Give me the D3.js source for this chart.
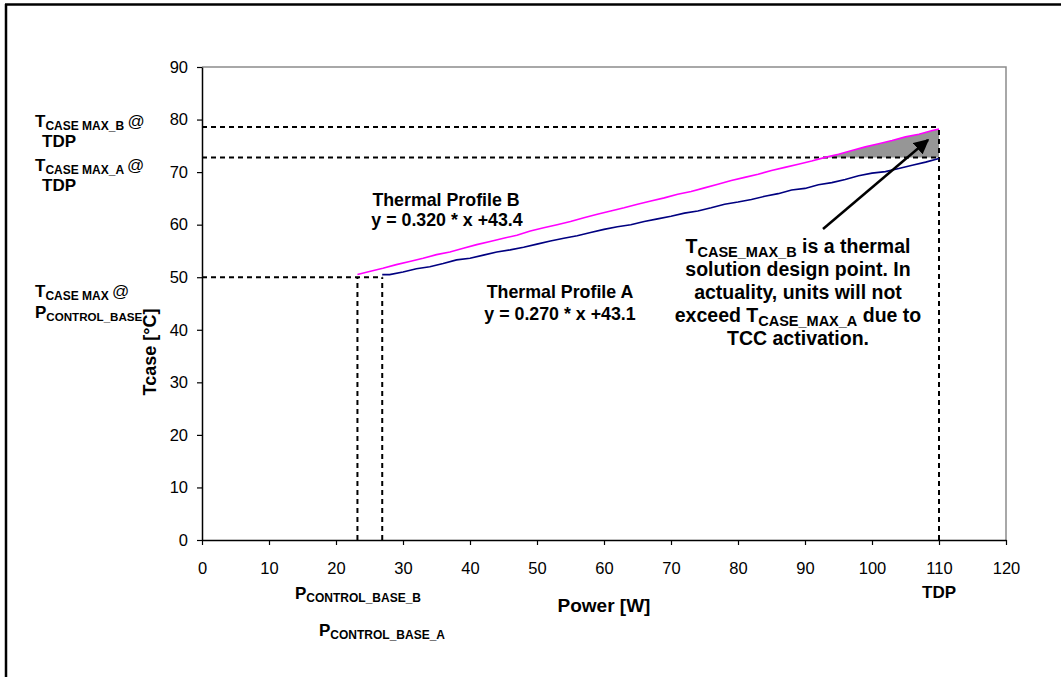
<!DOCTYPE html>
<html><head><meta charset="utf-8">
<script src="https://cdn.jsdelivr.net/npm/d3@7"></script>
<style>
body{margin:0;background:#fff;}
svg{display:block;font-family:"Liberation Sans",Arial,sans-serif;}
</style></head>
<body><svg id="c" width="1061" height="677"></svg>
<script>
// ---- data ----
const xTicks = [0,10,20,30,40,50,60,70,80,90,100,110,120];
const yTicks = [0,10,20,30,40,50,60,70,80,90];
const powerB = [23.2,25,27,29,31,33,35,37,39,41,43,45,47,49,51,53,55,57,59,61,63,65,67,69,71,73,75,77,79,81,83,85,87,89,91,93,95,97,99,101,103,105,107,109,110];
const tcaseB = [50.5,51.1,51.7,52.4,53.0,53.6,54.3,54.8,55.5,56.2,56.8,57.4,58.0,58.8,59.4,60.0,60.6,61.3,62.0,62.6,63.2,63.9,64.5,65.1,65.8,66.3,67.0,67.7,68.4,69.0,69.6,70.3,70.9,71.5,72.1,72.8,73.4,74.1,74.8,75.4,76.0,76.7,77.2,77.9,78.2];
const powerA = [26.9,28,30,32,34,36,38,40,42,44,46,48,50,52,54,56,58,60,62,64,66,68,70,72,74,76,78,80,82,84,86,88,90,92,94,96,98,100,102,104,106,108,110];
const tcaseA = [50.5,50.5,51.0,51.6,52.0,52.6,53.3,53.6,54.2,54.8,55.2,55.7,56.3,56.9,57.4,57.9,58.5,59.1,59.6,60.0,60.6,61.1,61.6,62.2,62.6,63.2,63.9,64.3,64.8,65.4,65.9,66.6,66.9,67.6,68.0,68.6,69.3,69.8,70.1,70.7,71.3,71.9,72.6];
const pControlB = 23.2, pControlA = 26.9, tdp = 110;
const tCaseMax = 50, tCaseMaxA = 72.8, tCaseMaxB = 78.6;

// ---- setup ----
const svg = d3.select("#c");
const x = d3.scaleLinear().domain([0,120]).range([202,1006]);
const y = d3.scaleLinear().domain([0,90]).range([540,67]);

// outer frame (top + left)
svg.append("line").attr("x1",5).attr("x2",1061).attr("y1",4.5).attr("y2",4.5).attr("stroke","#000").attr("stroke-width",2.5);
svg.append("line").attr("x1",6).attr("x2",6).attr("y1",4).attr("y2",677).attr("stroke","#000").attr("stroke-width",2.5);

// plot border (gray top/right)
svg.append("path").attr("d",`M${x(0)},${y(90)}H${x(120)}V${y(0)}`).attr("fill","none").attr("stroke","#8c8c8c").attr("stroke-width",1.5);

// gray fill between profile B and TCASE_MAX_A
const pts = [];
for(let i=0;i<powerB.length;i++){
  if(tcaseB[i] >= tCaseMaxA){
    if(pts.length===0 && i>0){
      const t=(tCaseMaxA-tcaseB[i-1])/(tcaseB[i]-tcaseB[i-1]);
      pts.push([powerB[i-1]+t*(powerB[i]-powerB[i-1]), tCaseMaxA]);
    }
    pts.push([powerB[i],tcaseB[i]]);
  }
}
svg.append("path").datum(pts)
  .attr("d", d3.area().x(d=>x(d[0])).y0(y(tCaseMaxA)).y1(d=>y(d[1])))
  .attr("fill","#969696");

// dashed guides
const dash = (x1,y1,x2,y2)=>svg.append("line").attr("x1",x(x1)).attr("y1",y(y1)).attr("x2",x(x2)).attr("y2",y(y2))
  .attr("stroke","#000").attr("stroke-width",2).attr("stroke-dasharray","5,4");
dash(0,tCaseMaxB,tdp,tCaseMaxB);
dash(0,tCaseMaxA,tdp,tCaseMaxA);
dash(0,tCaseMax,pControlA,tCaseMax);
dash(pControlB,0,pControlB,tCaseMax);
dash(pControlA,0,pControlA,tCaseMax);
dash(tdp,0,tdp,tCaseMaxB);

// lines
const line = d3.line().x(d=>x(d[0])).y(d=>y(d[1]));
svg.append("path").datum(powerB.map((p,i)=>[p,tcaseB[i]])).attr("d",line).attr("fill","none").attr("stroke","#ff00ff").attr("stroke-width",1.6);
svg.append("path").datum(powerA.map((p,i)=>[p,tcaseA[i]])).attr("d",line).attr("fill","none").attr("stroke","#000080").attr("stroke-width",1.6);

// axes
const gx = svg.append("g").attr("transform",`translate(0,${y(0)})`)
  .call(d3.axisBottom(x).tickValues(xTicks).tickSize(5).tickPadding(17).tickSizeOuter(0));
const gy = svg.append("g").attr("transform",`translate(${x(0)},0)`)
  .call(d3.axisLeft(y).tickValues(yTicks).tickSize(5).tickPadding(9).tickSizeOuter(0));
[gx,gy].forEach(g=>{
  g.selectAll("text").attr("font-size",16.5).attr("font-family","Liberation Sans, Arial, sans-serif").attr("fill","#000");
  g.selectAll("line").attr("stroke","#000").attr("stroke-width",1.2);
  g.select(".domain").attr("stroke","#000").attr("stroke-width",1.5);
});

// text helper with subscript
function rich(xp, yp, segs, anchor){
  const t = svg.append("text").attr("x",xp).attr("y",yp).attr("text-anchor",anchor||"start").attr("fill","#000");
  let shifted=false;
  segs.forEach(s=>{
    const ts = t.append("tspan").text(s.t)
      .attr("font-size", s.size || (s.sub?12:17))
      .attr("font-weight", s.normal? "normal":"bold");
    if(s.sub && !shifted){ ts.attr("dy", s.dy||3); shifted=true; }
    else if(!s.sub && shifted){ ts.attr("dy", -(s.dy||3)); shifted=false; }
  });
  return t;
}

// axis titles
svg.append("text").attr("x",(x(0)+x(120))/2).attr("y",612).attr("text-anchor","middle")
  .attr("font-weight","bold").attr("font-size",19).text("Power [W]");
svg.append("text").attr("transform",`translate(156,352) rotate(-90)`).attr("text-anchor","middle")
  .attr("font-weight","bold").attr("font-size",18).text("Tcase [°C]");

// left labels
rich(35,127,[{t:"T"},{t:"CASE MAX_B ",sub:true},{t:"@",normal:true,dy:3}]);
rich(42,147,[{t:"TDP"}]);
rich(35,171,[{t:"T"},{t:"CASE MAX_A ",sub:true},{t:"@",normal:true,dy:3}]);
rich(42,191,[{t:"TDP"}]);
rich(35,297,[{t:"T"},{t:"CASE MAX ",sub:true},{t:"@",normal:true,dy:3}]);
rich(35,318,[{t:"P"},{t:"CONTROL_BASE",sub:true,size:11.6}]);

// bottom labels
rich(295,599,[{t:"P"},{t:"CONTROL_BASE_B",sub:true}]);
rich(319,636,[{t:"P"},{t:"CONTROL_BASE_A",sub:true}]);
svg.append("text").attr("x",x(tdp)).attr("y",598).attr("text-anchor","middle").attr("font-weight","bold").attr("font-size",17).text("TDP");

// profile labels
const lab=(xp,yp,s,fs)=>svg.append("text").attr("x",xp).attr("y",yp).attr("text-anchor","middle").attr("font-weight","bold").attr("font-size",fs||17.8).text(s);
lab(446,206,"Thermal Profile B");
lab(447,226,"y = 0.320 * x +43.4");
lab(560,298,"Thermal Profile A");
lab(560,320,"y = 0.270 * x +43.1");

// annotation
const AF = 19.5;
rich(798,253,[{t:"T",size:AF},{t:"CASE_MAX_B",sub:true,size:14.5,dy:4},{t:" is a thermal",size:AF,dy:4}],"middle");
lab(798,276,"solution design point. In",AF);
lab(798,299,"actuality, units will not",AF);
rich(798,322,[{t:"exceed T",size:AF},{t:"CASE_MAX_A",sub:true,size:14.5,dy:4},{t:" due to",size:AF,dy:4}],"middle");
lab(798,345,"TCC activation.",AF);

// arrow
svg.append("defs").append("marker").attr("id","ah").attr("viewBox","0 0 10 10").attr("refX",9).attr("refY",5)
  .attr("markerWidth",6).attr("markerHeight",6).attr("markerUnits","strokeWidth").attr("orient","auto")
  .append("path").attr("d","M0,0L10,5L0,10z").attr("fill","#000");
svg.append("line").attr("x1",823).attr("y1",229).attr("x2",928).attr("y2",140)
  .attr("stroke","#000").attr("stroke-width",2.5).attr("marker-end","url(#ah)");
</script></body></html>
